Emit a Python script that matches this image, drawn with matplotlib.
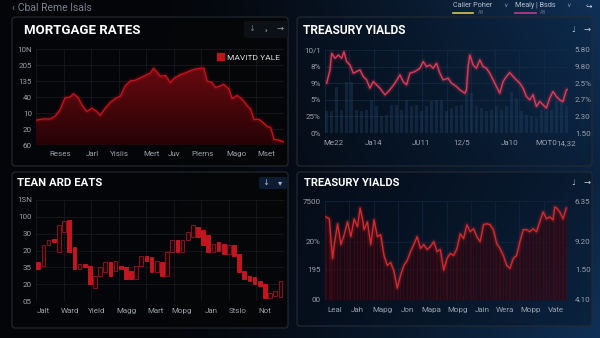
import numpy as np
import matplotlib.pyplot as plt
from matplotlib.patches import FancyBboxPatch, Patch
from matplotlib.colors import LinearSegmentedColormap, to_rgba

plt.rcParams['font.family'] = ['Roboto', 'DejaVu Sans']

W, H = 600, 338

# --- mortgage rates (top left, area) ---
mort_week = [0, 3.0, 5.7, 7.7, 9.7, 11.7, 13.7, 15.1, 17.1, 18.5, 20.5, 22.5, 24.5,
             25.9, 27.9, 29.9, 31.9, 34.0, 36.0, 38.0, 40.0, 42.0, 44.1, 46.1, 47.4,
             48.8, 50.1, 52.2, 54.2, 55.5, 58.2, 60.2, 62.3, 64.3, 66.3, 67.7, 69.0,
             71.0, 72.4, 74.4, 75.7, 77.8, 79.1, 81.1, 83.2, 85.2, 86.5, 87.9, 89.9,
             91.2, 93.3, 94.6, 96.0, 98.0, 99.7]
mort_rate = [1.55, 1.63, 1.63, 1.8, 2.2, 2.95, 3.0, 3.2, 2.95, 2.5, 2.1, 2.3, 2.1,
             1.85, 2.3, 2.65, 2.9, 3.05, 3.7, 4.0, 4.05, 4.2, 4.35, 4.5, 4.8,
             4.55, 4.3, 4.35, 3.9, 4.15, 4.4, 4.5, 4.65, 4.75, 4.8, 4.8, 4.0,
             3.9, 3.6, 3.7, 3.8, 3.5, 2.9, 3.1, 2.85, 2.45, 2.25, 1.6, 1.6,
             1.45, 1.15, 1.1, 0.35, 0.3, 0.2]
mort_xpos = [9.7, 22.7, 33.6, 46.6, 55.9, 67.2, 81.0, 92.7]
mort_xlab = ['Reses', 'Jarl', 'Yisiis', 'Mert', 'Juv', 'Plems', 'Mago', 'Mset']
mort_ylab = ['60', '20', '10', '40', '135', '205', '10N']

# --- treasury yields (top right, line + volume) ---
tsy_day = [80, 90, 95, 105, 115, 125, 132, 140, 150, 160, 170, 180, 190, 200, 210,
           220, 230, 240, 255, 270, 285, 300, 310, 320, 330, 345, 360, 370, 380,
           390, 400, 410, 420, 430, 445, 455, 470, 480, 495, 500, 505, 510, 520,
           530, 540, 550, 560, 570, 580, 590, 600, 610, 620, 630, 640, 650, 660,
           670, 680, 690, 700, 710, 720, 730, 740, 750, 760, 770, 780, 790, 800, 808]
tsy_yield = [3.0, 3.8, 4.8, 4.5, 4.7, 4.5, 4.9, 4.3, 4.1, 3.6, 3.7, 3.8, 3.4, 3.2, 2.7,
             3.1, 2.9, 2.7, 2.3, 2.6, 3.0, 3.5, 3.1, 2.9, 3.6, 3.7, 3.9, 4.3, 4.0,
             4.1, 3.9, 4.2, 3.6, 3.2, 3.3, 3.0, 2.8, 2.6, 2.4, 2.6, 4.0, 4.7, 4.1,
             3.9, 4.4, 4.0, 3.9, 3.6, 3.2, 2.8, 2.4, 3.1, 3.4, 3.64, 3.4, 3.2, 3.0,
             2.7, 2.2, 2.0, 2.3, 1.6, 1.9, 1.7, 1.5, 2.1, 2.5, 2.2, 2.0, 1.9, 2.6, 2.64]
tsy_volume = [1.3, 1.3, 2.8, 1.4, 3.1, 3.1, 1.4, 1.3, 1.4, 2.0, 1.6, 1.0, 1.1, 1.7, 1.7,
              1.4, 2.0, 1.6, 1.7, 1.3, 1.6, 1.9, 2.0, 2.0, 1.3, 1.5, 1.6, 1.7, 2.6, 2.4,
              1.6, 1.5, 1.3, 1.4, 1.6, 1.4, 1.6, 2.5, 2.1, 1.3, 1.1, 1.0, 0.9, 1.4, 1.3,
              1.4, 1.9, 1.9, 1.6]
tsy_xpos = [100, 220, 365, 485, 630, 740, 800]
tsy_xlab = ['Me22', 'Ja14', 'JU11', '12/5', 'Ja10', 'MOT0', '14,32']
tsy_ylab_l = ['0%', '25%', '5%', '9%', '8%', '10/1']
tsy_ylab_r = ['1.50', '2.30', '2.7%', '2.5%', '9.80', '5.80']

# --- candles (bottom left) ---
cdl_open = [2.3, 2.1, 3.3, 3.7, 2.9, 4.1, 4.8, 3.2, 1.9, 2.2, 2.1, 0.8, 1.5, 1.7, 2.3, 1.8,
            2.1, 2.0, 1.8, 1.3, 2.1, 2.7, 2.6, 1.7, 2.3, 1.5, 2.9, 3.6, 2.9, 3.6, 3.8, 4.4,
            4.2, 3.9, 2.9, 3.5, 3.4, 2.8, 3.3, 2.8, 1.8, 1.5, 1.4, 1.2, 1.0, 0.15, 0.3, 0.26]
cdl_close = [1.9, 3.3, 3.6, 3.5, 4.5, 4.75, 2.9, 1.9, 2.2, 2.0, 1.0, 1.5, 2.0, 2.3, 1.5, 2.4,
             1.9, 1.3, 1.3, 2.1, 2.7, 2.4, 1.7, 2.4, 1.5, 2.9, 3.6, 2.9, 3.6, 4.1, 4.5, 3.8,
             3.3, 2.9, 3.4, 3.0, 2.8, 3.3, 2.7, 1.75, 1.3, 1.2, 1.0, 0.9, 0.15, 0.5, 0.6, 1.2]
cdl_xpos = [1.0, 6.2, 11.4, 17.1, 22.7, 27.9, 33.5, 38.7, 44.0]
cdl_xlab = ['Jalt', 'Ward', 'Yield', 'Magg', 'Mart', 'Mopg', 'Jan', 'Stslo', 'Not']
cdl_ylab = ['05', '20', '35', '20', '30', '100', '1SN']

# --- treasury yields (bottom right) ---
ty2_day = [75, 85, 90, 95, 100, 110, 120, 130, 140, 150, 160, 170, 178, 185, 190, 200,
           210, 220, 230, 240, 250, 260, 270, 280, 290, 300, 310, 320, 330, 340, 350,
           360, 370, 380, 390, 400, 410, 420, 430, 440, 450, 460, 470, 480, 490, 500,
           510, 520, 530, 540, 550, 560, 570, 580, 590, 600, 610, 620, 630, 640, 650,
           660, 670, 680, 690, 700, 710, 720, 730, 740, 750, 760, 765, 770, 780, 790, 800]
ty2_val = [84, 82, 61, 42, 56, 77, 56, 66, 79, 64, 82, 74, 93, 82, 71, 79,
           56, 81, 64, 66, 45, 35, 38, 29, 12, 25, 35, 40, 49, 56, 64,
           52, 56, 51, 54, 59, 49, 51, 30, 42, 47, 45, 52, 67, 62, 76,
           69, 72, 64, 59, 76, 77, 76, 71, 57, 52, 45, 35, 32, 42, 45,
           59, 71, 71, 69, 72, 69, 79, 89, 82, 84, 81, 94, 93, 89, 82, 93]
ty2_xpos = [100, 170, 245, 320, 392, 472, 548, 615, 693, 770]
ty2_xlab = ['Leal', 'Jah', 'Mapg', 'Jon', 'Mapa', 'Mopg', 'Jain', 'Wera', 'Mopp', 'Vate']
ty2_ytick = [0, 31.3, 58.6, 100]
ty2_ylab_l = ['00', '195', '20%', '7500']
ty2_ylab_r = ['4.10', '1.50', '9.20', '6.35']

TICK = '#9aa1ab'


def rect(x0, y0, x1, y1):
    return [x0 / W, 1 - y1 / H, (x1 - x0) / W, (y1 - y0) / H]


def style(ax, grid='#1b1c22'):
    ax.set_facecolor('none')
    for s in ax.spines.values():
        s.set_visible(False)
    ax.tick_params(length=0, colors=TICK, labelsize=5.8, pad=3)
    ax.grid(True, which='both', color=grid, lw=0.5)
    ax.set_axisbelow(True)


def glow(ax, x, y, color, lw=1.0):
    for w, a in [(4.5, 0.08), (2.8, 0.15)]:
        ax.plot(x, y, color=color, lw=w, alpha=a, solid_capstyle='round', zorder=3)
    ax.plot(x, y, color=color, lw=lw, zorder=4)


fig = plt.figure(figsize=(6, 3.38), dpi=100)
fig.patch.set_facecolor('#04060a')

# background gradient
bg = fig.add_axes([0, 0, 1, 1], zorder=-5)
yy, xx = np.mgrid[0:H, 0:W]
xx = xx / W
yy = yy / H
f = np.clip((xx - 0.25) / 0.75, 0, 1) ** 1.3 * (0.7 + 0.3 * np.abs(yy - 0.5) * 2)
dark = np.array([0.015, 0.02, 0.035])
blue = np.array([0.06, 0.19, 0.34])
img = dark + f[..., None] * (blue - dark)
bg.imshow(img, extent=[0, W, H, 0], aspect='auto')
bg.set_xlim(0, W)
bg.set_ylim(H, 0)
bg.axis('off')


def panel(x0, y0, x1, y1, face, alpha):
    bg.add_patch(FancyBboxPatch((x0, y0), x1 - x0, y1 - y0,
                                boxstyle='round,pad=0,rounding_size=3',
                                fc=to_rgba(face, alpha), ec='#262b33', lw=0.8))


panel(12, 17, 288, 166, '#050608', 0.92)
panel(297, 17, 592, 166, '#06182c', 0.15)
panel(12, 172, 288, 328, '#050608', 0.92)
panel(297, 172, 592, 326, '#040e1c', 0.35)

# header
bg.text(12, 8, '‹ Cbal Reme Isals', color='#7b8494', fontsize=7.5, va='center')
bg.text(453, 5.5, 'Cailer Poher', color='#b8c0cc', fontsize=5.2, va='center')
bg.text(503, 5.5, '∨', color='#8a94a4', fontsize=4.5, va='center')
bg.plot([453, 473], [12.5, 12.5], color='#d8c840', lw=1.2)
bg.text(478, 13, 'AB', color='#5d6878', fontsize=3.5, va='center')
bg.text(515, 5.5, 'Mealy | Bsds', color='#b8c0cc', fontsize=5.2, va='center')
bg.text(566, 5.5, '∨', color='#8a94a4', fontsize=4.5, va='center')
bg.plot([515, 536], [12.5, 12.5], color='#c03a8a', lw=1.2)
bg.text(540, 13, 'AB', color='#5d6878', fontsize=3.5, va='center')
bg.text(589, 7, '↪', color='#c8d0da', fontsize=5.5, va='center', ha='center')

# titles and icons
title_kw = dict(color='white', fontweight='bold', va='center', ha='left')
bg.text(24, 30, 'MORTGAGE RATES', fontsize=9.5, **title_kw)
bg.text(303, 30, 'TREASURY YIALDS', fontsize=8.6, **title_kw)
bg.text(17, 183.5, 'TEAN ARD EATS', fontsize=8.2, **title_kw)
bg.text(304, 183.5, 'TREASURY YIALDS', fontsize=7.9, **title_kw)

bg.add_patch(FancyBboxPatch((244, 21), 44, 17, boxstyle='round,pad=0,rounding_size=2',
                            fc='#0c1017', ec='none'))
icon_kw = dict(fontsize=6, va='center', ha='center')
bg.text(252, 29, '↓', color='#6c7686', **icon_kw)
bg.text(266, 29, '›', color='#9aa3b2', fontweight='bold', **icon_kw)
bg.text(280, 29, '→', color='#9aa3b2', **icon_kw)
bg.text(573, 30, '♩', color='#c8d0da', **icon_kw)
bg.text(587, 30, '→', color='#c8d0da', **icon_kw)
bg.add_patch(FancyBboxPatch((259, 177), 28, 12, boxstyle='round,pad=0,rounding_size=2',
                            fc='#0e1c33', ec='none'))
bg.text(266, 183, '↓', color='#a8b4c8', **icon_kw)
bg.text(280, 183, '▾', color='#a8b4c8', **icon_kw)
bg.text(573, 183, '♩', color='#c8d0da', **icon_kw)
bg.text(587, 183, '→', color='#c8d0da', **icon_kw)

# ---- panel 1: mortgage area ----
ax1 = fig.add_axes(rect(36, 49, 284, 145))
style(ax1)
ax1.set_xlim(0, 100)
ax1.set_ylim(0, 6)
poly = ax1.fill_between(mort_week, mort_rate, 0, color='none', lw=0)
red_cm = LinearSegmentedColormap.from_list('r', ['#260306', '#6a0a10'])
im = ax1.imshow(np.linspace(0, 1, 256).reshape(-1, 1), extent=[0, 100, 0, 5], origin='lower',
                cmap=red_cm, aspect='auto', zorder=2)
im.set_clip_path(poly.get_paths()[0], transform=ax1.transData)
glow(ax1, mort_week, mort_rate, '#c8141e', lw=0.9)
ax1.set_xticks(mort_xpos, mort_xlab)
ax1.set_xticks(np.linspace(0, 100, 10), minor=True)
ax1.set_yticks(range(7), mort_ylab)
ax1.tick_params(axis='x', pad=4)
ax1.tick_params(which='minor', length=0)
ax1.grid(False, axis='x', which='major')
ax1.legend([Patch(fc='#c0141c', ec='#c0141c')], ['MAVITD YALE'], loc='upper right',
           frameon=False, fontsize=6, labelcolor='#dcdcdc', handlelength=0.8,
           handleheight=0.9, handletextpad=0.4, borderaxespad=0.1)

# ---- panel 2: treasury line + volume ----
ax2 = fig.add_axes(rect(325, 50, 568, 133))
style(ax2, grid='#132c46')
ax2.set_xlim(75, 805)
ax2.set_ylim(0, 5)
vol_x = 80 + 15 * np.arange(len(tsy_volume))
ax2.bar(vol_x, tsy_volume, width=10, color='#24466a', alpha=0.35, edgecolor='none', zorder=2)
glow(ax2, tsy_day, tsy_yield, '#e23a58', lw=1.0)
ax2.set_xticks(tsy_xpos, tsy_xlab)
ax2.set_xticks(np.linspace(75, 805, 11), minor=True)
ax2.grid(False, axis='x', which='major')
ax2.set_yticks(range(6), tsy_ylab_l)
ax2.tick_params(axis='x', pad=5)
ax2.tick_params(which='minor', length=0)
tw2 = ax2.twinx()
style(tw2)
tw2.grid(False)
tw2.set_ylim(0, 5)
tw2.set_yticks(range(6), tsy_ylab_r)
tw2.tick_params(pad=5)

# ---- panel 3: candles ----
ax3 = fig.add_axes(rect(36, 200, 284, 301))
style(ax3)
ax3.set_xlim(-0.45, 47.7)
ax3.set_ylim(0, 6)
idx = np.arange(len(cdl_open))
o = np.array(cdl_open)
c = np.array(cdl_close)
up = c >= o
ax3.bar(idx[up], (c - o)[up], bottom=o[up], width=0.72, color='#1c0306',
        edgecolor='#7c1622', lw=0.8, zorder=3)
ax3.bar(idx[~up], (o - c)[~up], bottom=c[~up], width=0.72, color='#c8121c',
        edgecolor='#de1e28', lw=0.5, zorder=3)
ax3.set_xticks(cdl_xpos, cdl_xlab)
ax3.set_xticks(np.linspace(-0.45, 47.7, 10), minor=True)
ax3.grid(False, axis='x', which='major')
ax3.set_yticks(range(7), cdl_ylab)
ax3.tick_params(axis='x', pad=5)
ax3.tick_params(which='minor', length=0)

# ---- panel 4: treasury line with stripes ----
ax4 = fig.add_axes(rect(325, 201, 568, 300))
style(ax4, grid='#122640')
ax4.set_xlim(72, 805)
ax4.set_ylim(0, 100)
ax4.fill_between(ty2_day, ty2_val, 0, color='#2e060e', alpha=0.55, lw=0, zorder=1)
ax4.bar(ty2_day, ty2_val, width=3.5, color='#520a14', alpha=0.55, zorder=2)
glow(ax4, ty2_day, ty2_val, '#d42a2e', lw=1.0)
ax4.set_xticks(ty2_xpos, ty2_xlab)
ax4.set_xticks(np.linspace(72, 805, 11), minor=True)
ax4.grid(False, axis='x', which='major')
ax4.set_yticks(ty2_ytick, ty2_ylab_l)
ax4.tick_params(axis='x', pad=5)
ax4.tick_params(which='minor', length=0)
tw4 = ax4.twinx()
style(tw4)
tw4.grid(False)
tw4.set_ylim(0, 100)
tw4.set_yticks(ty2_ytick, ty2_ylab_r)
tw4.tick_params(pad=5)

fig.savefig('out.png', dpi=100, facecolor=fig.get_facecolor())
